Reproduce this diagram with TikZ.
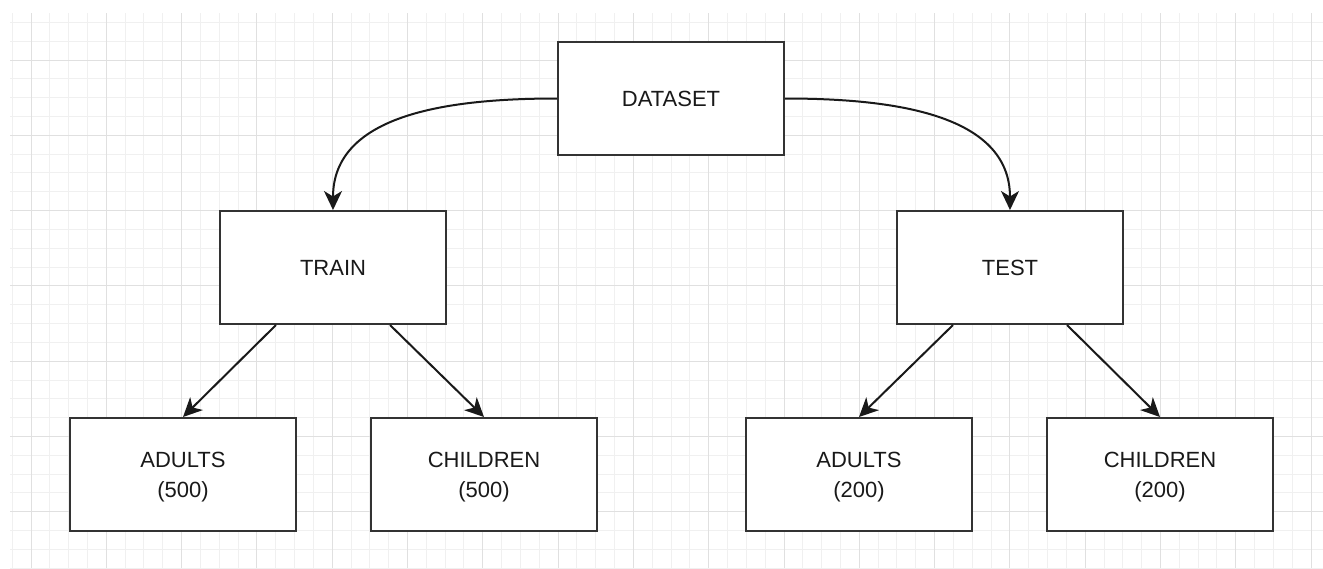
\documentclass[tikz,border=0pt]{standalone}
\usepackage{fontspec}
\setmainfont{Liberation Sans}
\usetikzlibrary{arrows.meta,calc}

\tikzset{
  box/.style={draw=black!80, line width=2pt, fill=white, minimum width=226pt,
    minimum height=113pt, inner sep=0pt, align=center,
    font=\fontsize{22pt}{30pt}\selectfont, text=black!90},
  twoline/.style={text depth=-3.5pt},
  link/.style={draw=black!90, line width=2pt,
    -{Stealth[length=19pt,width=18pt,inset=5.5pt]}},
  minorgrid/.style={draw=black!6, line width=1pt},
  majorgrid/.style={draw=black!12, line width=1pt}
}

\begin{document}
\begin{tikzpicture}[x=1pt,y=-1pt]
  % canvas
  \fill[white] (0,0) rectangle (1323,568);
  \useasboundingbox (0,0) rectangle (1323,568);

  % background grid
  \begin{scope}
    \clip (10,13) rectangle (1323,568);
    \foreach \i in {-1,...,70} {
      \pgfmathsetmacro\xx{31+18.825*\i}
      \draw[minorgrid] (\xx,13) -- (\xx,568);
    }
    \foreach \j in {-3,...,28} {
      \pgfmathsetmacro\yy{60+18.825*\j}
      \draw[minorgrid] (10,\yy) -- (1323,\yy);
    }
    \foreach \i in {0,...,17} {
      \pgfmathsetmacro\xx{31+75.3*\i}
      \draw[majorgrid] (\xx,13) -- (\xx,568);
    }
    \foreach \j in {0,...,6} {
      \pgfmathsetmacro\yy{60+75.3*\j}
      \draw[majorgrid] (10,\yy) -- (1323,\yy);
    }
  \end{scope}

  % boxes
  \node[box] (dataset) at (671,98.5) {DATASET};
  \node[box] (train) at (333,267.5) {TRAIN};
  \node[box] (test) at (1010,267.5) {TEST};
  \node[box,twoline] (trainadults) at (183,474.5) {ADULTS\\(500)};
  \node[box,twoline] (trainchildren) at (484,474.5) {CHILDREN\\(500)};
  \node[box,twoline] (testadults) at (859,474.5) {ADULTS\\(200)};
  \node[box,twoline] (testchildren) at (1160,474.5) {CHILDREN\\(200)};

  % curved splits from the dataset
  \draw[link] (dataset.west) .. controls +(-108,0) and +(0,-96) .. (train.north);
  \draw[link] (dataset.east) .. controls +(108,0) and +(0,-96) .. (test.north);

  % straight splits into groups
  \draw[link] ($(train.south west)!0.25!(train.south east)$) -- (trainadults.north);
  \draw[link] ($(train.south west)!0.75!(train.south east)$) -- (trainchildren.north);
  \draw[link] ($(test.south west)!0.25!(test.south east)$) -- (testadults.north);
  \draw[link] ($(test.south west)!0.75!(test.south east)$) -- (testchildren.north);
\end{tikzpicture}
\end{document}
